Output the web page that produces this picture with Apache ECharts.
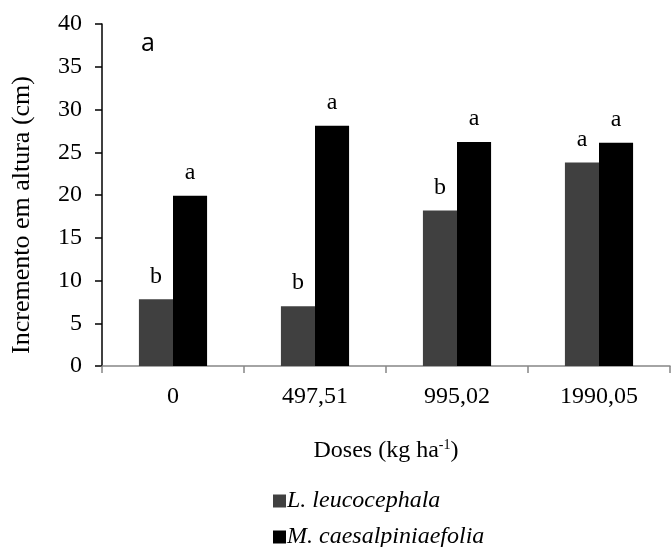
<!DOCTYPE html>
<html>
<head>
<meta charset="utf-8">
<script src="https://cdn.jsdelivr.net/npm/echarts@6/dist/echarts.min.js"></script>
<style>
  html, body { margin: 0; padding: 0; background: #fff; }
  #chart { width: 671px; height: 547px; }
</style>
</head>
<body>
<div id="chart"></div>
<script>
// Doses applied (kg ha-1)
const doses = ['0', '497,51', '995,02', '1990,05'];
// Height increment (cm) per species
const leucocephala = [7.8, 7.0, 18.2, 23.8];
const caesalpiniaefolia = [19.9, 28.1, 26.2, 26.1];
// Mean comparison letters shown above each bar
const leucocephalaLetters = ['b', 'b', 'b', 'a'];
const caesalpiniaefoliaLetters = ['a', 'a', 'a', 'a'];
const seriesNames = ['L. leucocephala', 'M. caesalpiniaefolia'];

const serif = '"Liberation Serif", "Times New Roman", serif';

function letterLabel(letters) {
  return {
    show: true,
    position: 'top',
    distance: 11,
    color: '#000',
    fontFamily: serif,
    fontSize: 24,
    formatter: p => letters[p.dataIndex]
  };
}

// one legend block per species so the two entries stack vertically
function legendRow(name, top) {
  return {
    orient: 'vertical',
    left: 268, top: top,
    itemWidth: 13, itemHeight: 13,
    icon: 'rect',
    data: [name],
    selectedMode: false,
    textStyle: { color: '#000', fontFamily: serif, fontStyle: 'italic', fontSize: 24, padding: [0, 0, 0, -4] }
  };
}

const chart = echarts.init(document.getElementById('chart'));
chart.setOption({
  animation: false,
  backgroundColor: '#fff',
  grid: { left: 102, right: 1, top: 24, bottom: 181 },
  xAxis: {
    type: 'category',
    data: doses,
    axisLine: { lineStyle: { color: '#868686', width: 1.5 } },
    axisTick: { show: true, length: 7, lineStyle: { color: '#868686', width: 1.5 } },
    axisLabel: { color: '#000', fontFamily: serif, fontSize: 24, margin: 19 },
    name: 'Doses (kg ha{sup|-1})',
    nameLocation: 'middle',
    nameGap: 72,
    nameTextStyle: {
      color: '#000', fontFamily: serif, fontSize: 24,
      rich: { sup: { fontFamily: serif, fontSize: 14, verticalAlign: 'top', padding: [0, 0, 11, 0], color: '#000' } }
    }
  },
  yAxis: {
    type: 'value',
    min: 0, max: 40, interval: 5,
    splitLine: { show: false },
    axisLine: { show: true, lineStyle: { color: '#000', width: 1.5 } },
    axisTick: { show: true, length: 7, lineStyle: { color: '#000', width: 1.5 } },
    axisLabel: { color: '#000', fontFamily: serif, fontSize: 24, margin: 20 }
  },
  legend: [
    legendRow(seriesNames[0], 484),
    legendRow(seriesNames[1], 520)
  ],
  graphic: [
    {
      type: 'text',
      x: 22, y: 215, rotation: Math.PI / 2,
      style: {
        text: 'Incremento em altura (cm)',
        fill: '#000', font: '26px ' + serif,
        align: 'center', verticalAlign: 'middle'
      }
    },
    {
      type: 'text',
      x: 148, y: 44,
      style: {
        text: 'a',
        fill: '#000', font: '25px "Open Sans", "Liberation Sans", sans-serif',
        align: 'center', verticalAlign: 'middle'
      }
    }
  ],
  series: [
    {
      name: seriesNames[0],
      type: 'bar',
      data: leucocephala,
      barCategoryGap: '52%',
      barGap: '0%',
      itemStyle: { color: '#404040' },
      label: letterLabel(leucocephalaLetters)
    },
    {
      name: seriesNames[1],
      type: 'bar',
      data: caesalpiniaefolia,
      barCategoryGap: '52%',
      barGap: '0%',
      itemStyle: { color: '#000' },
      label: letterLabel(caesalpiniaefoliaLetters)
    }
  ]
});
</script>
</body>
</html>
